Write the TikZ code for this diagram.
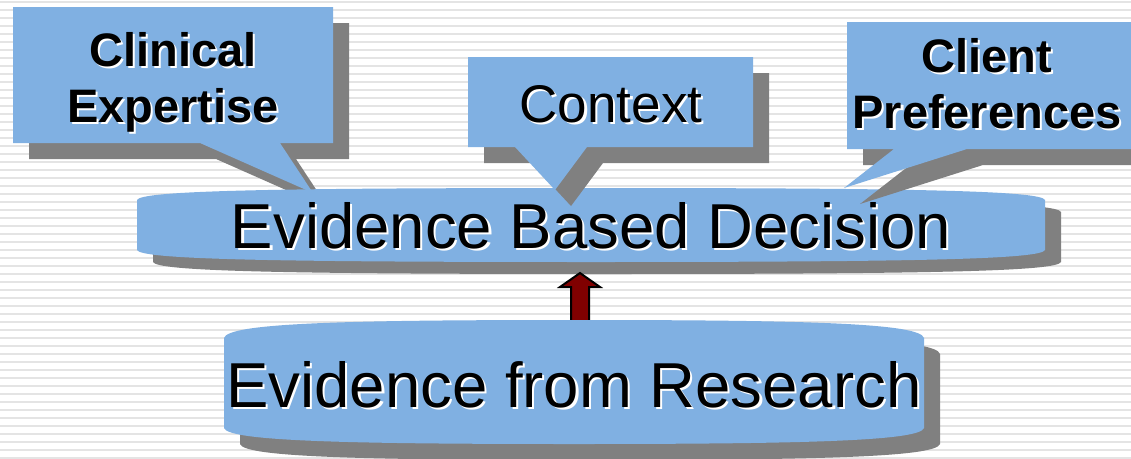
\documentclass[tikz,border=0pt]{standalone}
\usepackage{fontspec}
\setmainfont{Liberation Sans}
\definecolor{calloutblue}{RGB}{128,176,226}
\definecolor{dropgrey}{RGB}{128,128,128}
\definecolor{stripegrey}{RGB}{228,228,228}
\definecolor{arrowred}{RGB}{128,0,0}

% text with a white drop shadow down and to the right
\newcommand\shd[1]{\leavevmode\rlap{\kern2.2pt\raisebox{-2.2pt}{\color{white}#1}}#1}

% callout box with a pointer: left, top, right, bottom, pointer base x1, x2, tip x, tip y
\newcommand\drawcallout[8]{%
  \foreach \dd/\cc in {16/dropgrey,0/calloutblue}{%
    \fill[\cc,shift={(\dd,\dd)}] (#1,#2) -- (#3,#2) -- (#3,#4) -- (#6,#4) -- (#7,#8)
      -- (#5,#4) -- (#1,#4) -- cycle;}}

% banner with bulging top and bottom: left, right, top end, top middle, bottom end, bottom middle, shadow dy
\newcommand\drawbanner[7]{%
  \foreach \dx/\dy/\cc in {16/#7/dropgrey,0/0/calloutblue}{%
    \fill[\cc,shift={(\dx,\dy)}]
      (#1,#3) .. controls (#1+4,#4+3) and (#1+120,#4) .. ({(#1+#2)/2},#4)
      .. controls (#2-120,#4) and (#2-4,#4+3) .. (#2,#3)
      -- (#2,#5) .. controls (#2-4,#6-3) and (#2-120,#6) .. ({(#1+#2)/2},#6)
      .. controls (#1+120,#6) and (#1+4,#6-3) .. (#1,#5) -- cycle;}}

\begin{document}
\begin{tikzpicture}[x=1pt,y=-1pt,
  calltext/.style={font=\bfseries\fontsize{47}{56}\selectfont, align=center, inner sep=0pt},
  ctxtext/.style={font=\fontsize{53}{60}\selectfont, inner sep=0pt},
  bigtext/.style={font=\fontsize{63.5}{70}\selectfont, inner sep=0pt},
  blockarrow/.style={fill=arrowred, draw=black, line width=2pt, line join=miter}]
\useasboundingbox (0,0) rectangle (1131,458);
\clip (0,0) rectangle (1131,458);

% striped background
\fill[white] (0,0) rectangle (1131,458);
\foreach \y in {1,9,...,457} \fill[stripegrey] (0,\y) rectangle (1131,\y+2.2);

% clinical expertise callout (lies under the decision banner)
\drawcallout{13}{7}{333}{143}{200}{280}{313}{193}
\node[calltext, anchor=base] (clinical) at (173,122) {\shd{Clinical}\\\shd{Expertise}};

% decision banner
\drawbanner{137}{1045}{200}{188}{250}{262}{12}
\node[bigtext, anchor=base] (decision) at (591,248) {\shd{Evidence Based Decision}};

% upward block arrow between the two banners
\coordinate (arrowtip) at (580,273);
\coordinate (arrowfoot) at (580,323);
\draw[blockarrow] (arrowtip) -- ++(-20,14) -- ++(11,0) |- ([xshift=9pt]arrowfoot)
  -- ++(0,-36) -- ++(11,0) -- cycle;

% context callout
\drawcallout{468}{57}{753}{147}{515}{587}{555}{190}
\node[ctxtext, anchor=base] (context) at (611,122) {\shd{Context}};

% client preferences callout
\drawcallout{847}{22}{1160}{149}{894}{967}{844}{188}
\node[calltext, anchor=base] (client) at (987,128) {\shd{Client}\\\shd{Preferences}};

% research banner
\drawbanner{224}{924}{338}{320}{428}{444}{16}
\node[bigtext, anchor=base] (research) at (574,407) {\shd{Evidence from Research}};
\end{tikzpicture}
\end{document}
